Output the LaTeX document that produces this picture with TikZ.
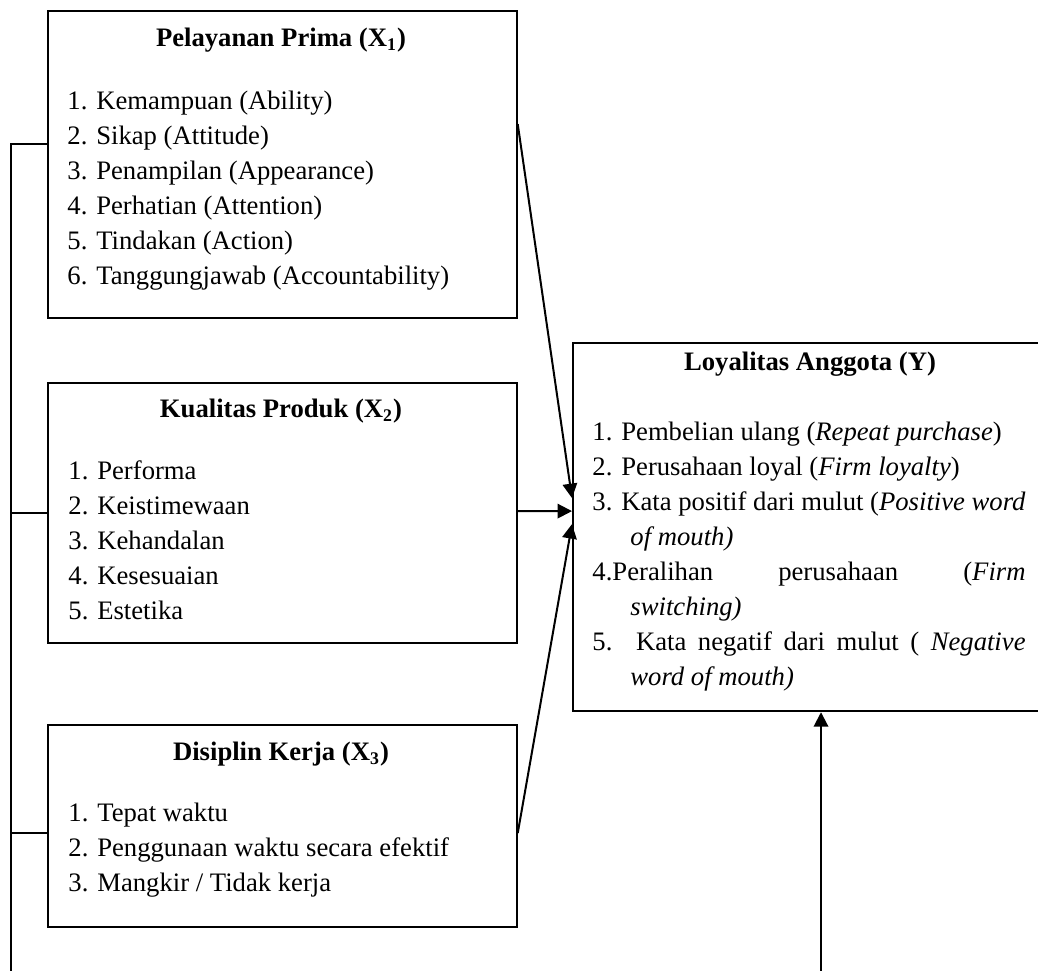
\documentclass[tikz,border=0pt]{standalone}
\usepackage{fontspec}
\setmainfont{Liberation Serif}
\usetikzlibrary{arrows.meta}

\tikzset{
  kotak/.style={draw, line width=1pt, inner sep=0pt, anchor=north west},
  daftar/.style={inner sep=0pt, align=left, anchor=base west, font=\fontsize{12}{15.75}\selectfont},
  judul/.style={inner sep=0pt, anchor=base, font=\fontsize{12}{15.75}\selectfont\bfseries},
  garis/.style={line width=0.9pt},
  panah/.style={line width=0.9pt, -{Triangle[length=6.5pt,width=6.5pt]}}
}
\newcommand{\butir}{\hangindent=17.1pt\hangafter=1 }

\begin{document}
\begin{tikzpicture}[x=0.45pt,y=-0.45pt]
  \useasboundingbox[fill=white] (0,0) rectangle (1038,971);

  % kotak variabel
  \node [kotak, minimum width=211.05pt, minimum height=138.15pt] (x1) at (46.5,10) {};
  \node [kotak, minimum width=211.05pt, minimum height=117pt] (x2) at (46.5,382) {};
  \node [kotak, minimum width=211.05pt, minimum height=90.9pt] (x3) at (46.5,724) {};
  \node [kotak, minimum width=214.2pt, minimum height=165.6pt] (ly) at (572,342) {};

  % isi (base = baris terakhir)
  \node [judul] (jx1) at (281,47) {Pelayanan Prima (X\textsubscript{1})};
  \node [daftar] (dx1) at (67,285) {1. Kemampuan (Ability)\\2. Sikap (Attitude)\\3. Penampilan (Appearance)\\4. Perhatian (Attention)\\5. Tindakan (Action)\\6. Tanggungjawab (Accountability)};

  \node [judul] (jx2) at (281,418) {Kualitas Produk (X\textsubscript{2})};
  \node [daftar] (dx2) at (68,620) {1. Performa\\2. Keistimewaan\\3. Kehandalan\\4. Kesesuaian\\5. Estetika};

  \node [judul] (jx3) at (281,760) {Disiplin Kerja (X\textsubscript{3})};
  \node [daftar] (dx3) at (68,891) {1. Tepat waktu\\2. Penggunaan waktu secara efektif\\3. Mangkir / Tidak kerja};

  \node [judul] (jly) at (810,371) {Loyalitas Anggota (Y)};
  \node [daftar, text width=194.9pt, align=justify] (dly) at (592,441) {%
    \butir 1. Pembelian ulang (\textit{Repeat purchase})\par
    \butir 2. Perusahaan loyal (\textit{Firm loyalty})\par
    \butir 3. Kata positif dari mulut (\textit{Positive word}\linebreak\textit{of mouth)}\par
    \butir 4.Peralihan perusahaan (\textit{Firm}\linebreak\textit{switching)}\par
    \butir 5. Kata negatif dari mulut ( \textit{Negative}\linebreak\textit{word of mouth)}\par};

  % garis kiri
  \coordinate (bawahkiri) at (11,971);
  \coordinate (bawahly) at (821,971);
  \draw [garis] ([yshift=9.225pt]x1.west) -| (bawahkiri);
  \draw [garis] (x2.west) -| (bawahkiri);
  \draw [garis] ([yshift=-3.15pt]x3.west) -| (bawahkiri);

  % panah ke Y
  \draw [panah] ([yshift=18.225pt]x1.east) -- ([yshift=13.05pt]ly.west);
  \draw [panah] ([yshift=0.9pt]x2.east) -- ([yshift=7.2pt]ly.west);
  \draw [panah] ([yshift=-3.15pt]x3.east) -- ([yshift=1.35pt]ly.west);
  \draw [panah] (bawahly) -- (bawahly |- ly.south);

\end{tikzpicture}
\end{document}
